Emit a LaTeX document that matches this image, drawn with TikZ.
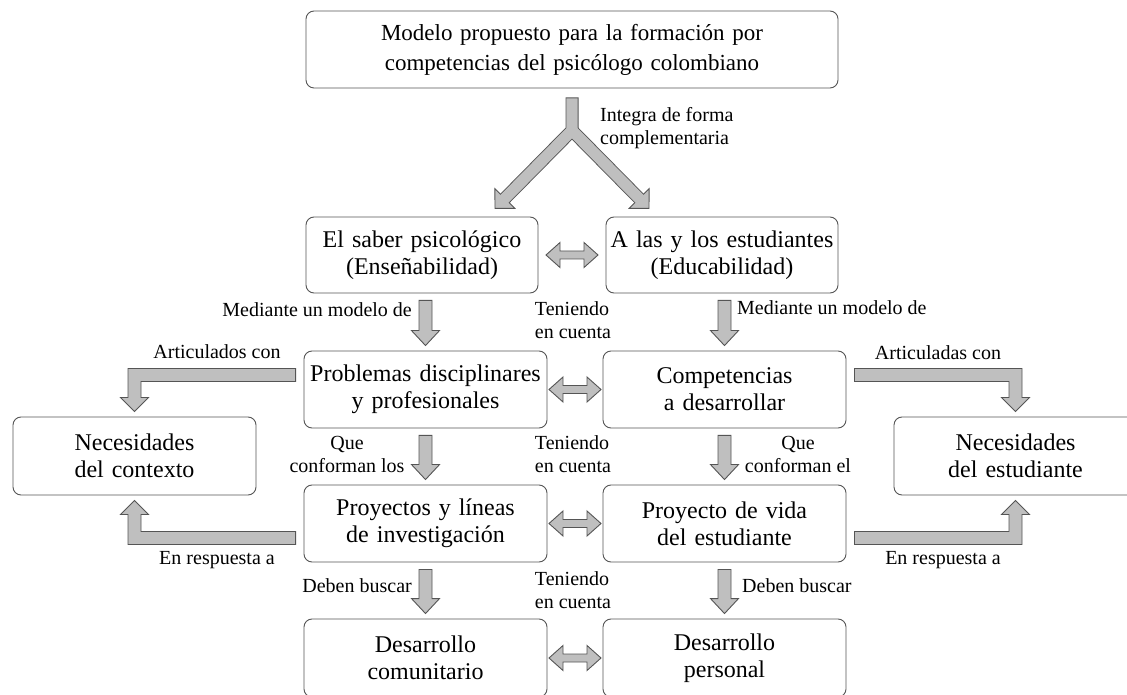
\documentclass[tikz,border=0pt]{standalone}
\usepackage{fontspec}
\setmainfont{Liberation Serif}
\usetikzlibrary{calc}
\definecolor{arrfill}{HTML}{BFBFBF}
\definecolor{arrline}{HTML}{555555}
\definecolor{boxline}{HTML}{555555}
% block arrows drawn between named nodes
\newcommand{\vblock}[2]{%
  \filldraw[arr] let \p1=(#1.south), \p2=(#2.north) in
    (\x2-6.5,\y1-7) -- (\x2+6.5,\y1-7) -- (\x2+6.5,\y2+20) -- (\x2+14,\y2+20)
    -- (\x2,\y2+5) -- (\x2-14,\y2+20) -- (\x2-6.5,\y2+20) -- cycle;}
\newcommand{\hblock}[2]{%
  \filldraw[arr] let \p1=(#1.east), \p2=(#2.west), \n1={(\x1+\x2)/2} in
    (\n1-26,\y1) -- (\n1-12,\y1+12.5) -- (\n1-12,\y1+4) -- (\n1+12,\y1+4)
    -- (\n1+12,\y1+12.5) -- (\n1+26,\y1) -- (\n1+12,\y1-12.5) -- (\n1+12,\y1-4)
    -- (\n1-12,\y1-4) -- (\n1-12,\y1-12.5) -- cycle;}
\newcommand{\elbowblock}[4]{%
  \filldraw[arr] let \p1=(#1), \p2=(#2) in
    ({\x1},{\y1-#4*6.5}) -- ({\x2+#3*6.5},{\y1-#4*6.5}) -- ({\x2+#3*6.5},{\y2-#4*19})
    -- ({\x2+#3*14},{\y2-#4*19}) -- ({\x2},{\y2-#4*5}) -- ({\x2-#3*14},{\y2-#4*19})
    -- ({\x2-#3*6.5},{\y2-#4*19}) -- ({\x2-#3*6.5},{\y1+#4*6.5}) -- ({\x1},{\y1+#4*6.5}) -- cycle;}
\begin{document}
\begin{tikzpicture}[x=1pt,y=1pt,
    box/.style={draw=boxline,line width=0.9pt,rounded corners=8pt,align=center,
      inner sep=0pt,minimum height=77pt,text width=243pt,
      font=\fontsize{24}{27}\selectfont},
    lbl/.style={inner sep=0pt,font=\fontsize{20}{23}\selectfont},
    arr/.style={fill=arrfill,draw=arrline,line width=0.9pt,line join=miter}]
  \useasboundingbox (0,0) rectangle (1127,694);
  \clip (0,0) rectangle (1127,694);
  \fill[white] (0,0) rectangle (1127,694);

  \node[box,text width=532pt,font=\fontsize{23}{30}\selectfont] (model) at (572,644.5)
    {Modelo propuesto para la formación por\\competencias del psicólogo colombiano};
  \node[box,text width=232pt,minimum height=76pt] (saber) at (422,439) {El saber psicológico\\(Enseñabilidad)};
  \node[box,text width=232pt,minimum height=76pt] (alum) at (722,439) {A las y los estudiantes\\(Educabilidad)};
  \node[box] (probl) at (425.5,304.5) {Problemas disciplinares\\y profesionales};
  \node[box] (compt) at (724.5,304.5) {Competencias\\a desarrollar};
  \node[box,minimum height=78pt] (necctx) at (134.5,238) {Necesidades\\del contexto};
  \node[box,minimum height=78pt] (necest) at (1015.5,238) {Necesidades\\del estudiante};
  \node[box] (proy) at (425.5,170.5) {Proyectos y líneas\\de investigación};
  \node[box] (vida) at (724.5,170.5) {Proyecto de vida\\del estudiante};
  \node[box,minimum height=78pt] (desco) at (425.5,36) {Desarrollo\\comunitario};
  \node[box,minimum height=78pt] (despe) at (724.5,36) {Desarrollo\\personal};

  % split arrow under the model
  \coordinate (split) at ([yshift=-42pt]model.south);
  \coordinate (tipl) at ([shift={(-77pt,-78pt)}]split);
  \coordinate (tipr) at ([shift={(77pt,-78pt)}]split);
  \coordinate (basel) at ($(tipl)!14pt!(split)$);
  \coordinate (baser) at ($(tipr)!14pt!(split)$);
  \draw[line width=13pt,arrline,line join=miter] ([yshift=-9pt]model.south) -- (split) -- (basel);
  \draw[line width=13pt,arrline] (split) -- (baser);
  \filldraw[arr] ($(basel)!14pt!90:(tipl)$) -- (tipl) -- ($(basel)!14pt!-90:(tipl)$) -- cycle;
  \filldraw[arr] ($(baser)!14pt!90:(tipr)$) -- (tipr) -- ($(baser)!14pt!-90:(tipr)$) -- cycle;
  \draw[line width=11.2pt,arrfill,line join=miter] ([yshift=-10pt]model.south) -- (split) -- ($(basel)!1.5pt!(tipl)$);
  \draw[line width=11.2pt,arrfill] (split) -- ($(baser)!1.5pt!(tipr)$);

  \vblock{saber}{probl}
  \vblock{alum}{compt}
  \vblock{probl}{proy}
  \vblock{compt}{vida}
  \vblock{proy}{desco}
  \vblock{vida}{despe}

  \hblock{saber}{alum}
  \hblock{probl}{compt}
  \hblock{proy}{vida}
  \hblock{desco}{despe}

  % elbow arrows to the side boxes
  \coordinate (artl) at ([shift={(-8pt,14.5pt)}]probl.west);
  \coordinate (resl) at ([shift={(-8pt,-14.5pt)}]proy.west);
  \coordinate (artr) at ([shift={(8pt,14.5pt)}]compt.east);
  \coordinate (resr) at ([shift={(8pt,-14.5pt)}]vida.east);
  \elbowblock{artl}{necctx.north}{-1}{-1}
  \elbowblock{resl}{necctx.south}{-1}{1}
  \elbowblock{artr}{necest.north}{1}{-1}
  \elbowblock{resr}{necest.south}{1}{1}

  \node[lbl,anchor=west,align=left] (lintegra) at (600,565.5) {Integra de forma\\complementaria};
  \node[lbl,anchor=east] (lmed1) at (412,384) {Mediante un modelo de};
  \node[lbl,anchor=west] (lmed2) at (737,386) {Mediante un modelo de};
  \node[lbl,align=left] (lten1) at (573,373.5) {Teniendo\\en cuenta};
  \node[lbl,align=left] (lten2) at (573,239.5) {Teniendo\\en cuenta};
  \node[lbl,align=left] (lten3) at (573,104) {Teniendo\\en cuenta};
  \node[lbl] (lart1) at (217,342) {Articulados con};
  \node[lbl] (lart2) at (938,341) {Articuladas con};
  \node[lbl] (lres1) at (217,134) {En respuesta a};
  \node[lbl] (lres2) at (943,134) {En respuesta a};
  \node[lbl,align=center] (lque1) at (347,239.5) {Que\\conforman los};
  \node[lbl,align=center] (lque2) at (798,239.5) {Que\\conforman el};
  \node[lbl,anchor=east] (ldeb1) at (412,108) {Deben buscar};
  \node[lbl,anchor=west] (ldeb2) at (742,108) {Deben buscar};
\end{tikzpicture}
\end{document}
